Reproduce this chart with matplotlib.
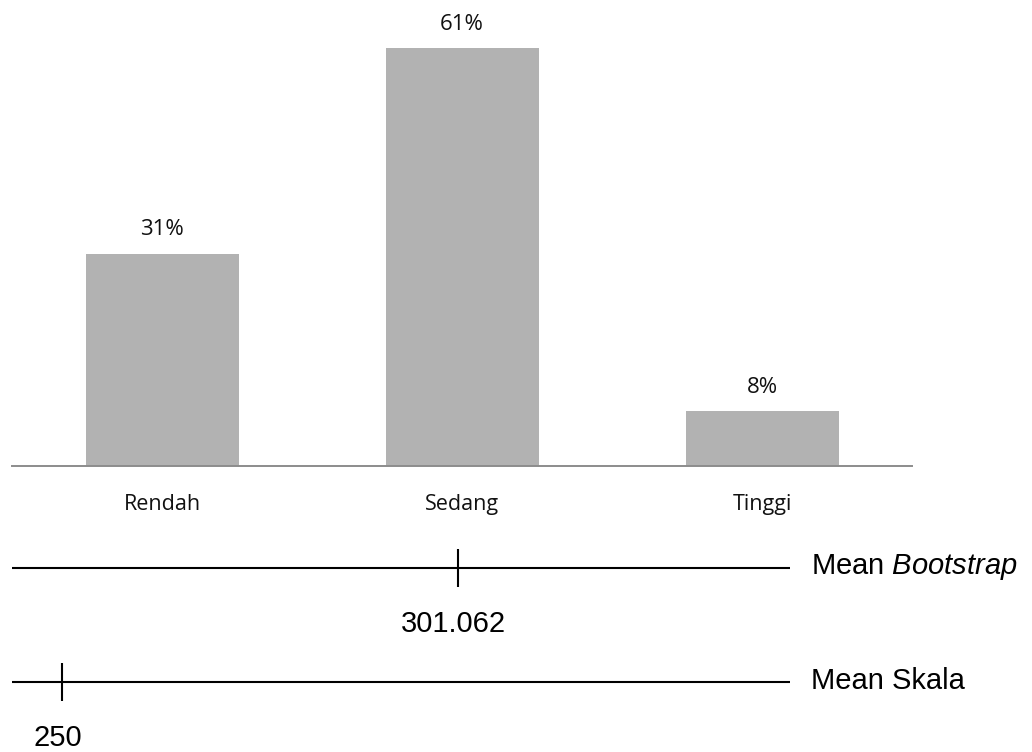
import matplotlib
matplotlib.use("Agg")
import matplotlib.pyplot as plt

# kategori skor dan persentase
categories = ["Rendah", "Sedang", "Tinggi"]
percent = [31, 61, 8]

# garis mean di bawah grafik
mean_labels = ["Mean $\\mathit{Bootstrap}$", "Mean Skala"]
mean_values = [301.062, 250]
mean_texts = ["301.062", "250"]

plt.rcParams["mathtext.fontset"] = "custom"
plt.rcParams["mathtext.rm"] = "Liberation Sans"
plt.rcParams["mathtext.it"] = "Liberation Sans:italic"

W, H = 1032, 752
fig = plt.figure(figsize=(W / 100, H / 100), dpi=100)

# --- bar chart ---
ax = fig.add_axes([12 / W, (H - 466) / H, 900 / W, 466 / H])
x = range(len(categories))
bars = ax.bar(x, percent, width=0.51, color="#b2b2b2")
ax.set_xlim(-0.5, 2.5)
ax.set_ylim(0, 68.0)
for b, p in zip(bars, percent):
    ax.annotate(f"{p}%", (b.get_x() + b.get_width() / 2, p),
                xytext=(0, 17), textcoords="offset points",
                ha="center", va="center", fontsize=16, family="Open Sans",
                color="#111111")
ax.set_xticks(list(x))
ax.set_xticklabels(categories, fontsize=15.5, family="Open Sans", color="#111111")
ax.tick_params(axis="x", length=0, pad=20)
ax.set_yticks([])
for s in ["top", "right", "left"]:
    ax.spines[s].set_visible(False)
ax.spines["bottom"].set_color("#8c8c8c")
ax.spines["bottom"].set_linewidth(1.4)

# --- garis mean ---
ax2 = fig.add_axes([12 / W, 0, 778 / W, (H - 530) / H])
ax2.set_xlim(243.55, 343.9)
ax2.set_ylim(1.614, -0.333)
ax2.axis("off")
for i, (lab, val, txt) in enumerate(zip(mean_labels, mean_values, mean_texts)):
    ax2.plot([243.55, 343.9], [i, i], color="black", lw=1.5, solid_capstyle="butt")
    ax2.vlines(val, i - 0.17, i + 0.17, color="black", lw=1.5)
    ax2.annotate(txt, (val, i), xytext=(-3, -40), textcoords="offset points",
                 ha="center", va="center", fontsize=21, family="Liberation Sans")
    ax2.annotate(lab, (1, i), xycoords=("axes fraction", "data"),
                 xytext=(15, 1), textcoords="offset points",
                 ha="left", va="center", fontsize=21, family="Liberation Sans")

fig.savefig("out.png", dpi=100)
